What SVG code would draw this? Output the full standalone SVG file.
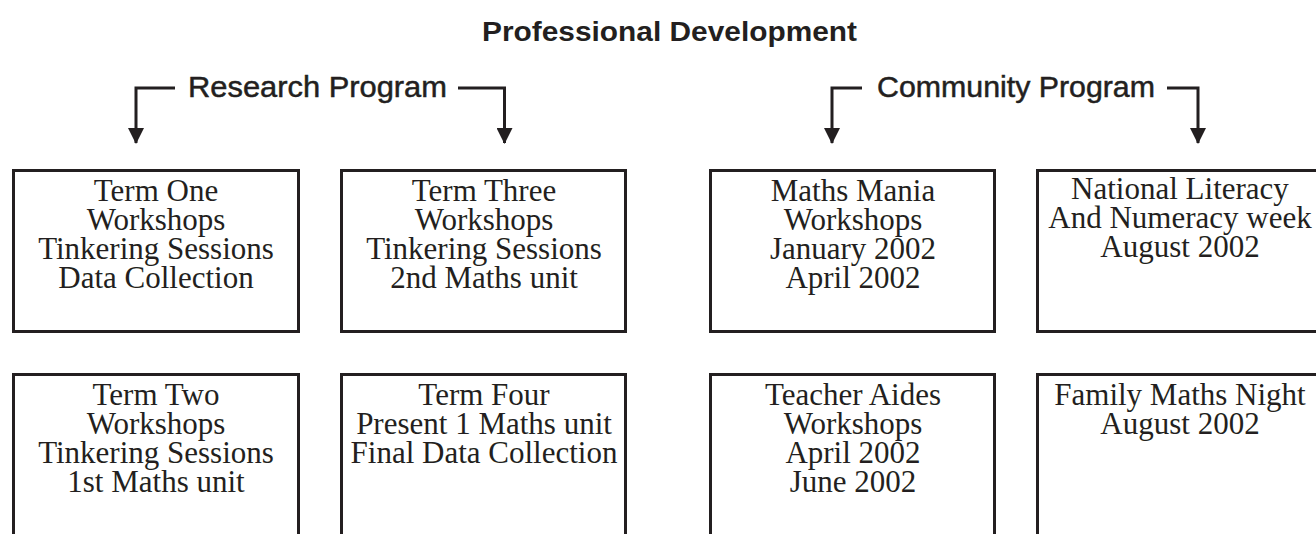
<svg xmlns="http://www.w3.org/2000/svg" width="1316" height="534" viewBox="0 0 1316 534">
<style>
.box{fill:#fff;stroke:#231f20;stroke-width:3}
.t{font-family:"Liberation Serif","Times New Roman",serif;font-size:31px;fill:#231f20;text-anchor:middle}
.h{font-family:"Liberation Sans",Arial,sans-serif;fill:#231f20}
.ln{fill:none;stroke:#231f20;stroke-width:3}
</style>
<defs>
<marker id="ah" viewBox="0 0 16 16" refX="15" refY="8" markerWidth="16" markerHeight="16" markerUnits="userSpaceOnUse" orient="auto">
<path d="M0,0 L16,8 L0,16 Z" fill="#231f20"/>
</marker>
</defs>
<rect width="1316" height="534" fill="#fff"/>
<text id="title" class="h" x="482" y="41" font-size="27" font-weight="bold" textLength="375" lengthAdjust="spacingAndGlyphs">Professional Development</text>
<text id="research" class="h" x="188" y="97" font-size="30" stroke="#231f20" stroke-width="0.5" textLength="259" lengthAdjust="spacingAndGlyphs">Research Program</text>
<text id="community" class="h" x="877" y="97" font-size="30" stroke="#231f20" stroke-width="0.5" textLength="278" lengthAdjust="spacingAndGlyphs">Community Program</text>
<g id="connectors">
<path class="ln" d="M175,88 H136 V143" marker-end="url(#ah)"/>
<path class="ln" d="M458,88 H504.5 V143" marker-end="url(#ah)"/>
<path class="ln" d="M862,88 H832 V143" marker-end="url(#ah)"/>
<path class="ln" d="M1167,88 H1198 V143" marker-end="url(#ah)"/>
</g>
<g id="term-one">
<rect class="box" x="13.5" y="170.5" width="285" height="161"/>
<text class="t" x="156"><tspan x="156" y="201">Term One</tspan><tspan x="156" y="230">Workshops</tspan><tspan x="156" y="259">Tinkering Sessions</tspan><tspan x="156" y="288">Data Collection</tspan></text>
</g>
<g id="term-three">
<rect class="box" x="341.5" y="170.5" width="284" height="161"/>
<text class="t" x="484"><tspan x="484" y="201">Term Three</tspan><tspan x="484" y="230">Workshops</tspan><tspan x="484" y="259">Tinkering Sessions</tspan><tspan x="484" y="288">2nd Maths unit</tspan></text>
</g>
<g id="maths-mania">
<rect class="box" x="710.5" y="170.5" width="284" height="161"/>
<text class="t" x="853"><tspan x="853" y="201">Maths Mania</tspan><tspan x="853" y="230">Workshops</tspan><tspan x="853" y="259">January 2002</tspan><tspan x="853" y="288">April 2002</tspan></text>
</g>
<g id="literacy-week">
<rect class="box" x="1037.5" y="170.5" width="285" height="161"/>
<text class="t" x="1180"><tspan x="1180" y="199">National Literacy</tspan><tspan x="1180" y="228">And Numeracy week</tspan><tspan x="1180" y="257">August 2002</tspan></text>
</g>
<g id="term-two">
<rect class="box" x="13.5" y="374.5" width="285" height="190"/>
<text class="t" x="156"><tspan x="156" y="405">Term Two</tspan><tspan x="156" y="434">Workshops</tspan><tspan x="156" y="463">Tinkering Sessions</tspan><tspan x="156" y="492">1st Maths unit</tspan></text>
</g>
<g id="term-four">
<rect class="box" x="341.5" y="374.5" width="284" height="190"/>
<text class="t" x="484"><tspan x="484" y="405">Term Four</tspan><tspan x="484" y="434">Present 1 Maths unit</tspan><tspan x="484" y="463">Final Data Collection</tspan></text>
</g>
<g id="teacher-aides">
<rect class="box" x="710.5" y="374.5" width="284" height="190"/>
<text class="t" x="853"><tspan x="853" y="405">Teacher Aides</tspan><tspan x="853" y="434">Workshops</tspan><tspan x="853" y="463">April 2002</tspan><tspan x="853" y="492">June 2002</tspan></text>
</g>
<g id="family-maths">
<rect class="box" x="1037.5" y="374.5" width="285" height="190"/>
<text class="t" x="1180"><tspan x="1180" y="405">Family Maths Night</tspan><tspan x="1180" y="434">August 2002</tspan></text>
</g>
</svg>
